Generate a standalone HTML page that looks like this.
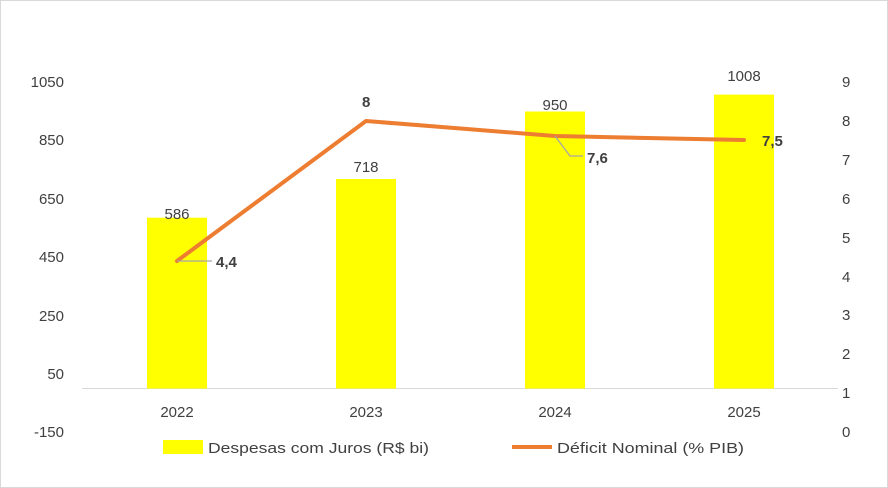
<!DOCTYPE html>
<html><head><meta charset="utf-8"><style>
body{margin:0;background:#fff}
svg{display:block;font-family:"Liberation Sans",sans-serif}
</style></head><body>
<svg width="888" height="488" viewBox="0 0 888 488">
<rect x="0.5" y="0.5" width="887" height="487" fill="#fff" stroke="#d9d9d9"/>
<g font-size="15" fill="#404040" text-anchor="end">
<text x="64" y="87">1050</text><text x="64" y="145">850</text><text x="64" y="204">650</text>
<text x="64" y="262">450</text><text x="64" y="321">250</text><text x="64" y="379">50</text>
<text x="64" y="437">-150</text>
</g>
<g font-size="15" fill="#404040" text-anchor="start">
<text x="842" y="87">9</text><text x="842" y="126">8</text><text x="842" y="165">7</text>
<text x="842" y="204">6</text><text x="842" y="243">5</text><text x="842" y="282">4</text>
<text x="842" y="320">3</text><text x="842" y="359">2</text><text x="842" y="398">1</text>
<text x="842" y="437">0</text>
</g>
<line x1="82" y1="388.5" x2="838" y2="388.5" stroke="#d9d9d9"/>
<g fill="#ffff00">
<rect x="147" y="217.7" width="60" height="170.9"/>
<rect x="336" y="179" width="60" height="209.6"/>
<rect x="525" y="111.5" width="60" height="277.1"/>
<rect x="714" y="94.6" width="60" height="294"/>
</g>
<g font-size="15" fill="#404040" text-anchor="middle">
<text x="177" y="219">586</text><text x="366" y="172">718</text>
<text x="555" y="110">950</text><text x="744" y="81">1008</text>
<text x="177" y="417">2022</text><text x="366" y="417">2023</text>
<text x="555" y="417">2024</text><text x="744" y="417">2025</text>
</g>
<polyline points="177,261 366,121 555,136 744,140" fill="none" stroke="#ed7d31" stroke-width="4" stroke-linejoin="round" stroke-linecap="round"/>
<polyline points="177,261 212,261" fill="none" stroke="#a6a6a6" stroke-width="1.3"/>
<polyline points="555,136 570,156 583,156" fill="none" stroke="#a6a6a6" stroke-width="1.3"/>
<g font-size="15" font-weight="bold" fill="#404040">
<text x="216" y="267">4,4</text><text x="362" y="107">8</text>
<text x="587" y="163">7,6</text><text x="762" y="146">7,5</text>
</g>
<rect x="163" y="440" width="40" height="14" fill="#ffff00"/>
<text x="208" y="453" font-size="15" fill="#404040" textLength="221" lengthAdjust="spacingAndGlyphs">Despesas com Juros (R$ bi)</text>
<line x1="512" y1="447" x2="552" y2="447" stroke="#ed7d31" stroke-width="4"/>
<text x="557" y="453" font-size="15" fill="#404040" textLength="187" lengthAdjust="spacingAndGlyphs">Déficit Nominal (% PIB)</text>
</svg>
</body></html>
